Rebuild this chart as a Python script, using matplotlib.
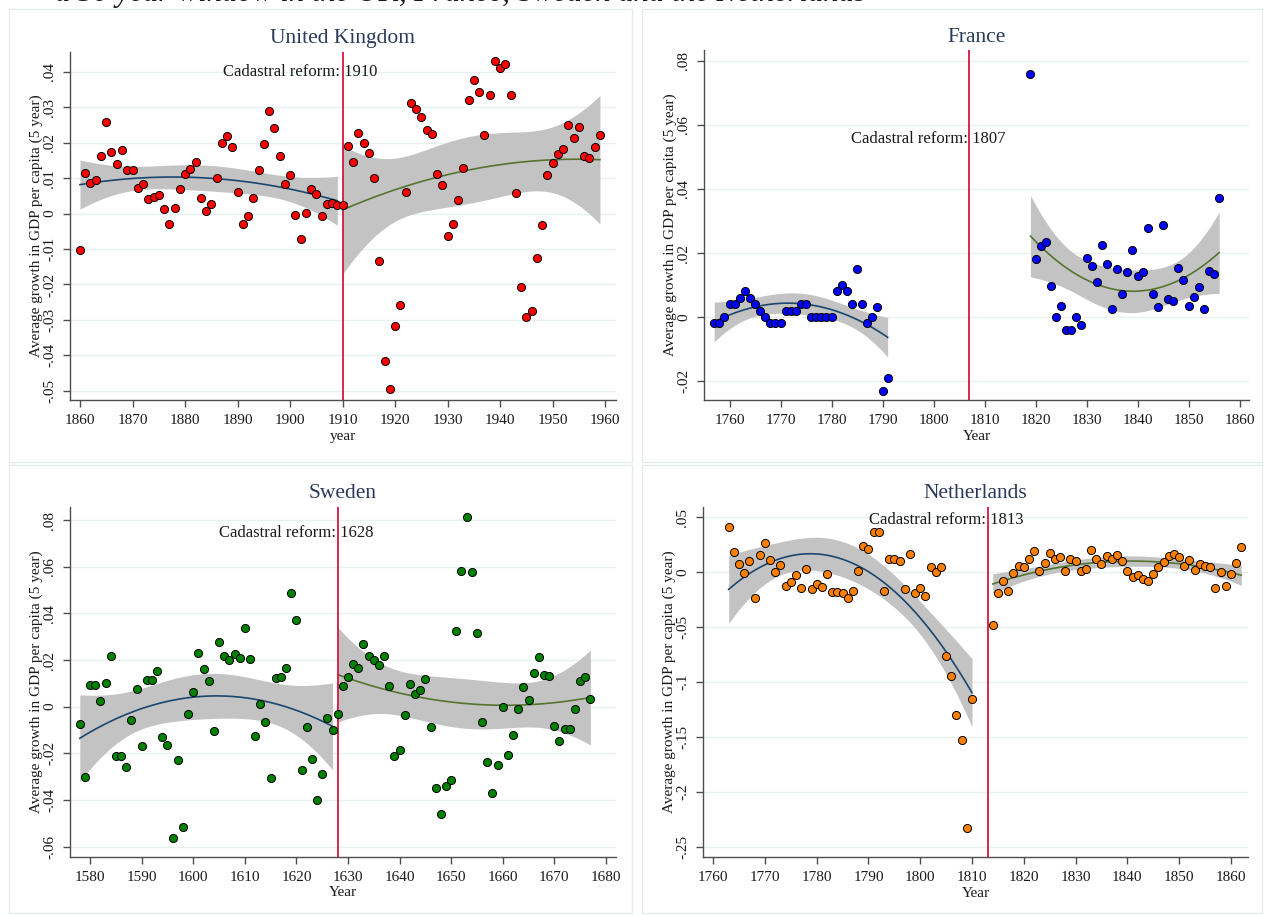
import matplotlib
matplotlib.use("Agg")
import matplotlib.pyplot as plt
import numpy as np
from matplotlib.patches import Rectangle

# ---- data (average 5-year growth in GDP per capita) ----
uk_years = np.arange(1860, 1960)
uk_growth = [
    -0.0103, 0.0114, 0.0087, 0.0095, 0.0163, 0.0260, 0.0175, 0.0139, 0.0179, 0.0123,
    0.0123, 0.0072, 0.0084, 0.0040, 0.0048, 0.0053, 0.0012, -0.0030, 0.0016, 0.0069,
    0.0113, 0.0127, 0.0145, 0.0045, 0.0008, 0.0028, 0.0100, 0.0200, 0.0219, 0.0189,
    0.0060, -0.0030, -0.0007, 0.0044, 0.0123, 0.0196, 0.0290, 0.0241, 0.0164, 0.0083,
    0.0109, -0.0005, -0.0071, 0.0003, 0.0070, 0.0056, -0.0006, 0.0027, 0.0031, 0.0024,
    0.0025, 0.0192, 0.0146, 0.0227, 0.0200, 0.0171, 0.0100, -0.0134, -0.0415, -0.0495,
    -0.0318, -0.0258, 0.0062, 0.0311, 0.0294, 0.0273, 0.0237, 0.0224, 0.0112, 0.0081,
    -0.0063, -0.0030, 0.0038, 0.0128, 0.0322, 0.0377, 0.0344, 0.0221, 0.0336, 0.0430,
    0.0412, 0.0423, 0.0336, 0.0058, -0.0207, -0.0291, -0.0276, -0.0125, -0.0033, 0.0110,
    0.0142, 0.0169, 0.0183, 0.0251, 0.0214, 0.0245, 0.0162, 0.0156, 0.0189, 0.0221,
]

fr_years = np.concatenate([np.arange(1757, 1792), np.arange(1819, 1857)])
fr_growth = [
    -0.002, -0.002, 0.000, 0.004, 0.004, 0.006, 0.008, 0.006, 0.004, 0.002,
    0.000, -0.002, -0.002, -0.002, 0.002, 0.002, 0.002, 0.004, 0.004, 0.000,
    0.000, 0.000, 0.000, 0.000, 0.008, 0.010, 0.008, 0.004, 0.015, 0.004,
    -0.002, 0.000, 0.003, -0.023, -0.019,
    0.0758, 0.0180, 0.0222, 0.0234, 0.0096, 0.0000, 0.0036, -0.0040, -0.0040, 0.0000,
    -0.0024, 0.0185, 0.0158, 0.0111, 0.0226, 0.0166, 0.0026, 0.0150, 0.0071, 0.0140,
    0.0210, 0.0128, 0.0140, 0.0277, 0.0073, 0.0032, 0.0286, 0.0057, 0.0050, 0.0152,
    0.0117, 0.0036, 0.0064, 0.0095, 0.0026, 0.0145, 0.0134, 0.0372,
]

se_years = np.arange(1578, 1678)
se_growth = [
    -0.0073, -0.0303, 0.0091, 0.0091, 0.0023, 0.0103, 0.0217, -0.0213, -0.0213, -0.0257,
    -0.0059, 0.0074, -0.0167, 0.0116, 0.0116, 0.0151, -0.0129, -0.0164, -0.0561, -0.0229,
    -0.0517, -0.0033, 0.0064, 0.0229, 0.0160, 0.0110, -0.0103, 0.0279, 0.0219, 0.0199,
    0.0226, 0.0210, 0.0336, 0.0206, -0.0127, 0.0010, -0.0067, -0.0307, 0.0124, 0.0127,
    0.0166, 0.0489, 0.0370, -0.0270, -0.0086, -0.0226, -0.0399, -0.0289, -0.0047, -0.0099,
    -0.0033, 0.0090, 0.0129, 0.0181, 0.0167, 0.0270, 0.0219, 0.0199, 0.0180, 0.0219,
    0.0087, -0.0211, -0.0186, -0.0037, 0.0097, 0.0056, 0.0070, 0.0120, -0.0089, -0.0347,
    -0.0461, -0.0341, -0.0314, 0.0326, 0.0581, 0.0811, 0.0576, 0.0314, -0.0064, -0.0239,
    -0.0371, -0.0249, -0.0003, -0.0209, -0.0121, -0.0010, 0.0086, 0.0027, 0.0146, 0.0213,
    0.0136, 0.0130, -0.0083, -0.0146, -0.0094, -0.0094, -0.0011, 0.0111, 0.0129, 0.0033,
]

nl_years = np.concatenate([np.arange(1763, 1811), np.arange(1814, 1863)])
nl_growth = [
    0.0416, 0.0182, 0.0076, -0.0003, 0.0103, -0.0234, 0.0161, 0.0270, 0.0115, 0.0006,
    0.0067, -0.0128, -0.0091, -0.0027, -0.0146, 0.0030, -0.0152, -0.0103, -0.0137, -0.0018,
    -0.0176, -0.0176, -0.0185, -0.0237, -0.0167, 0.0012, 0.0243, 0.0216, 0.0367, 0.0367,
    -0.0173, 0.0118, 0.0118, 0.0106, -0.0149, 0.0170, -0.0185, -0.0140, -0.0216, 0.0052,
    0.0000, 0.0052, -0.0759, -0.0941, -0.1296, -0.1524, -0.2325, -0.1154,
    -0.0483, -0.0191, -0.0076, -0.0173, -0.0003, 0.0055, 0.0052, 0.0118, 0.0197, 0.0009,
    0.0082, 0.0176, 0.0121, 0.0140, 0.0009, 0.0124, 0.0100, 0.0015, 0.0030, 0.0203,
    0.0121, 0.0079, 0.0146, 0.0124, 0.0155, 0.0103, 0.0009, -0.0046, -0.0027, -0.0058,
    -0.0076, -0.0012, 0.0052, 0.0091, 0.0146, 0.0170, 0.0137, 0.0055, 0.0115, 0.0021,
    0.0076, 0.0061, 0.0052, -0.0143, 0.0006, -0.0124, -0.0012, 0.0082, 0.0231,
]

reform_years = {"United Kingdom": 1910, "France": 1807, "Sweden": 1628, "Netherlands": 1813}

plt.rcParams["font.family"] = ["Liberation Serif", "DejaVu Serif"]

TEXT = "#1a1a1a"
AXIS = "#4d4d4d"
GRID = "#e8f0f2"
BAND = "#c3c3c3"
PRE_LINE = "#1a476f"
POST_LINE = "#55752f"
REFORM = "#d2173f"


def t_975(df):
    # Cornish-Fisher expansion of the Student t quantile (no scipy here)
    z = 1.959964
    return (z + (z**3 + z) / (4 * df)
            + (5 * z**5 + 16 * z**3 + 3 * z) / (96 * df**2)
            + (3 * z**7 + 19 * z**5 + 17 * z**3 - 15 * z) / (384 * df**3))


def qfit_ci(x, y):
    """Quadratic fit with 95% CI of the mean prediction (like Stata qfitci)."""
    x = np.asarray(x, float)
    y = np.asarray(y, float)
    xm = x.mean()
    X = np.column_stack([np.ones_like(x), x - xm, (x - xm) ** 2])
    beta, *_ = np.linalg.lstsq(X, y, rcond=None)
    resid = y - X @ beta
    n = len(x)
    s2 = resid @ resid / (n - 3)
    cov = s2 * np.linalg.inv(X.T @ X)
    xg = np.linspace(x.min(), x.max(), 200)
    G = np.column_stack([np.ones_like(xg), xg - xm, (xg - xm) ** 2])
    fit = G @ beta
    se = np.sqrt(np.einsum("ij,jk,ik->i", G, cov, G))
    t = t_975(n - 3)
    return xg, fit, fit - t * se, fit + t * se


def stata_fmt(v):
    if abs(v) < 1e-12:
        return "0"
    s = f"{v:.2f}".rstrip("0").rstrip(".")
    return s.replace("0.", ".")


def draw_panel(ax, title, years, growth, color, xlim, ylim, yticks, xticks,
               text_y, xlabel):
    years = np.asarray(years)
    growth = np.asarray(growth)
    reform = reform_years[title]

    for yt in yticks:
        ax.axhline(yt, color=GRID, lw=1.0, zorder=0)

    pre = years < reform
    post = years >= reform
    for mask, lc in [(pre, PRE_LINE), (post, POST_LINE)]:
        xg, fit, lo, hi = qfit_ci(years[mask], growth[mask])
        ax.fill_between(xg, lo, hi, color=BAND, lw=0, zorder=1)
        ax.plot(xg, fit, color=lc, lw=1.2, zorder=2)

    ax.axvline(reform, color=REFORM, lw=1.3, zorder=2.5)
    ax.scatter(years, growth, s=34, color=color, edgecolor="black",
               linewidth=0.7, zorder=3)

    ax.text(reform - 8, text_y, f"Cadastral reform: {reform}", ha="center",
            va="center", fontsize=12, color=TEXT, zorder=5)

    ax.set_xlim(*xlim)
    ax.set_ylim(*ylim)
    ax.set_xticks(xticks)
    ax.set_yticks(yticks)
    ax.set_yticklabels([stata_fmt(v) for v in yticks])
    ax.tick_params(axis="both", direction="out", length=5, width=1,
                   color=AXIS, labelsize=11, labelcolor=TEXT)
    ax.tick_params(axis="x", pad=5)
    ax.tick_params(axis="y", labelrotation=90, pad=5)
    for lab in ax.get_yticklabels():
        lab.set_va("center")

    for side in ["top", "right"]:
        ax.spines[side].set_visible(False)
    for side in ["left", "bottom"]:
        ax.spines[side].set_color(AXIS)
        ax.spines[side].set_linewidth(1.0)

    ax.set_title(title, fontsize=15.5, color="#2b3a5a", pad=6)
    ax.set_xlabel(xlabel, fontsize=11, color=TEXT)
    ax.xaxis.set_label_coords(0.5, -0.085)
    ax.set_ylabel("Average growth in GDP per capita (5 year)", fontsize=11, color=TEXT)
    ax.yaxis.set_label_coords(-0.05, 0.5)


W, H = 1265, 916
fig = plt.figure(figsize=(W / 100, H / 100), dpi=100)


def px_axes(left, top, right, bottom):
    return fig.add_axes([left / W, 1 - bottom / H, (right - left) / W, (bottom - top) / H])


# light frames around the four sub-graphs
for (l, t, r, b) in [(8.5, 8.5, 631.5, 461.5), (642.5, 8.5, 1262, 461.5),
                     (8.5, 464.5, 631.5, 912.5), (642.5, 464.5, 1262, 912.5)]:
    fig.add_artist(Rectangle((l / W, 1 - b / H), (r - l) / W, (b - t) / H,
                             transform=fig.transFigure, fill=False,
                             edgecolor="#e2ebee", lw=1.0))

# caption of the source page, mostly cut off by the screenshot's top edge
fig.text(55 / W, 1 - 1.0 / H,
         "a 50 year window in the UK, France, Sweden and the Netherlands",
         fontsize=22, style="italic", color=TEXT, va="baseline", ha="left")

ax_uk = px_axes(70, 51.7, 615.7, 400)
draw_panel(ax_uk, "United Kingdom", uk_years, uk_growth, "#ff0000",
           (1858.1, 1962.0), (-0.0526, 0.0457),
           [-0.05, -0.04, -0.03, -0.02, -0.01, 0, 0.01, 0.02, 0.03, 0.04],
           [1860, 1870, 1880, 1890, 1900, 1910, 1920, 1930, 1940, 1950, 1960],
           0.040, "year")

ax_fr = px_axes(704, 50, 1249.3, 400)
draw_panel(ax_fr, "France", fr_years, fr_growth, "#0000ff",
           (1755.0, 1861.9), (-0.0259, 0.0834),
           [-0.02, 0, 0.02, 0.04, 0.06, 0.08],
           [1760, 1770, 1780, 1790, 1800, 1810, 1820, 1830, 1840, 1850, 1860],
           0.0555, "Year")

ax_se = px_axes(70, 506.7, 615.7, 856.7)
draw_panel(ax_se, "Sweden", se_years, se_growth, "#008000",
           (1576.1, 1681.9), (-0.0643, 0.0857),
           [-0.06, -0.04, -0.02, 0, 0.02, 0.04, 0.06, 0.08],
           [1580, 1590, 1600, 1610, 1620, 1630, 1640, 1650, 1660, 1670, 1680],
           0.0745, "Year")

ax_nl = px_axes(703.3, 506.7, 1248, 857.3)
draw_panel(ax_nl, "Netherlands", nl_years, nl_growth, "#ff8000",
           (1758.1, 1863.3), (-0.2596, 0.0597),
           [-0.25, -0.2, -0.15, -0.1, -0.05, 0, 0.05],
           [1760, 1770, 1780, 1790, 1800, 1810, 1820, 1830, 1840, 1850, 1860],
           0.0476, "Year")

fig.savefig("out.png", dpi=100, facecolor="white")
